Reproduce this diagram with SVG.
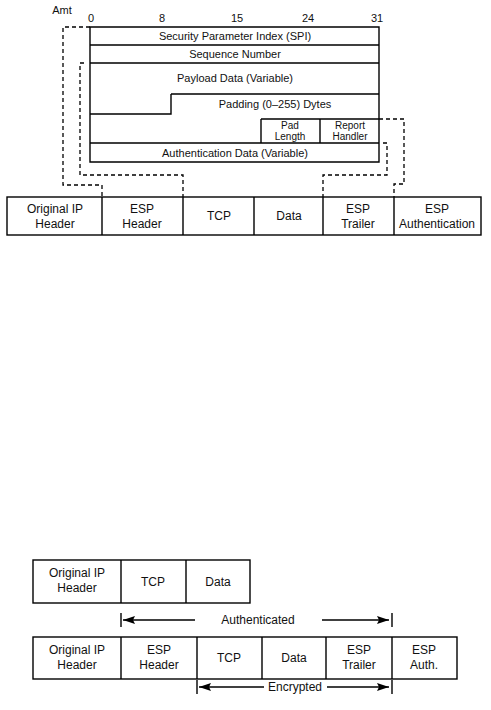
<svg xmlns="http://www.w3.org/2000/svg" width="491" height="710" viewBox="0 0 491 710">
<defs>
<marker id="ah" viewBox="0 0 12 8" refX="12" refY="4" markerWidth="12" markerHeight="8" markerUnits="userSpaceOnUse" orient="auto-start-reverse">
<path d="M0,0 L12,4 L0,8 L2,4 Z" fill="#000"/>
</marker>
<style>
text{font-family:"Liberation Sans",Arial,sans-serif;fill:#111;text-anchor:middle}
.t{font-size:11px}
.b{font-size:12px}
.s{font-size:10px}
.box{fill:none;stroke:#000;stroke-width:1.4}
.ln{stroke:#000;stroke-width:1.4;fill:none}
.d{stroke:#000;stroke-width:1.3;fill:none;stroke-dasharray:4,3}
</style>
</defs>
<rect width="491" height="710" fill="#fff"/>

<g id="esp-format">
<text class="t" x="62" y="14">Amt</text>
<text class="t" x="91" y="22">0</text>
<text class="t" x="162" y="22">8</text>
<text class="t" x="237" y="22">15</text>
<text class="t" x="308" y="22">24</text>
<text class="t" x="377" y="22">31</text>
<path class="ln" d="M90,27 H379 V162 H90 Z"/>
<path class="ln" d="M90,45 H379 M90,63 H379 M171,94 H379 M90,114 H171 V94 M261,119 H379 M261,119 V143 M320,119 V143 M90,143 H379"/>
<text class="t" x="235" y="40">Security Parameter Index (SPI)</text>
<text class="t" x="235" y="58">Sequence Number</text>
<text class="t" x="235" y="82">Payload Data (Variable)</text>
<text class="t" x="275" y="108">Padding (0–255) Dytes</text>
<text class="s" x="290" y="129">Pad</text>
<text class="s" x="290" y="140">Length</text>
<text class="s" x="350" y="129">Report</text>
<text class="s" x="350" y="140">Handler</text>
<text class="t" x="235" y="157">Authentication Data (Variable)</text>
</g>

<g id="esp-packet">
<rect class="box" x="7" y="197" width="474" height="38"/>
<path class="ln" d="M102,197 V235 M183,197 V235 M254,197 V235 M323,197 V235 M394,197 V235"/>
<text class="b" x="55" y="213">Original IP</text>
<text class="b" x="55" y="228">Header</text>
<text class="b" x="142" y="213">ESP</text>
<text class="b" x="142" y="228">Header</text>
<text class="b" x="219" y="220">TCP</text>
<text class="b" x="289" y="220">Data</text>
<text class="b" x="358" y="213">ESP</text>
<text class="b" x="358" y="228">Trailer</text>
<text class="b" x="437" y="213">ESP</text>
<text class="b" x="437" y="228">Authentication</text>
</g>

<g id="connectors">
<path class="d" d="M90,27 H63 V185 H102 V197"/>
<path class="d" d="M84,63 H80 V175 H183 V197"/>
<path class="d" d="M379,119 H404 V184 H394 V197"/>
<path class="d" d="M383,143 H387 V175 H323 V197"/>
</g>

<g id="original-packet">
<rect class="box" x="33" y="560" width="217" height="43"/>
<path class="ln" d="M121,560 V603 M186,560 V603"/>
<text class="b" x="77" y="577">Original IP</text>
<text class="b" x="77" y="592">Header</text>
<text class="b" x="153" y="586">TCP</text>
<text class="b" x="218" y="586">Data</text>
</g>

<g id="authenticated">
<path class="ln" d="M121,613 V627 M392,613 V627"/>
<path class="ln" d="M195,620 H123" marker-end="url(#ah)"/>
<path class="ln" d="M322,620 H389" marker-end="url(#ah)"/>
<text class="b" x="258" y="624">Authenticated</text>
</g>

<g id="transport-packet">
<rect class="box" x="33" y="637" width="424" height="42"/>
<path class="ln" d="M121,637 V679 M197,637 V679 M262,637 V679 M326,637 V679 M392,637 V679"/>
<text class="b" x="77" y="654">Original IP</text>
<text class="b" x="77" y="669">Header</text>
<text class="b" x="159" y="654">ESP</text>
<text class="b" x="159" y="669">Header</text>
<text class="b" x="229" y="662">TCP</text>
<text class="b" x="294" y="662">Data</text>
<text class="b" x="359" y="654">ESP</text>
<text class="b" x="359" y="669">Trailer</text>
<text class="b" x="424" y="654">ESP</text>
<text class="b" x="424" y="669">Auth.</text>
</g>

<g id="encrypted">
<path class="ln" d="M197,680 V694 M392,680 V694"/>
<path class="ln" d="M264,687 H199" marker-end="url(#ah)"/>
<path class="ln" d="M327,687 H389" marker-end="url(#ah)"/>
<text class="b" x="295" y="691">Encrypted</text>
</g>
</svg>
